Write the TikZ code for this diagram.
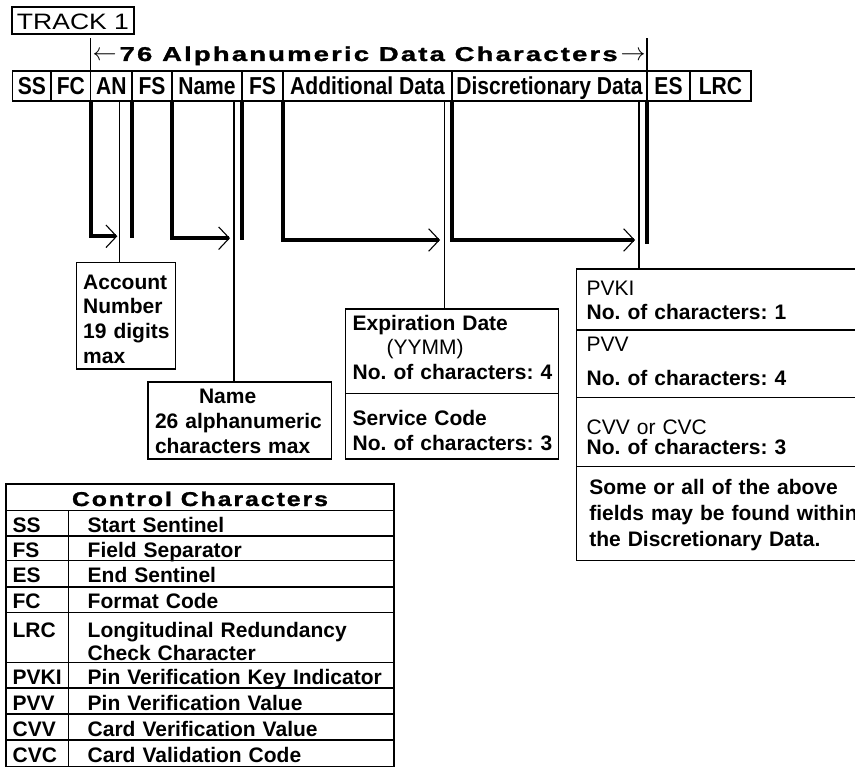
\documentclass[tikz,border=0pt]{standalone}
\usepackage{fontspec}
\usepackage{graphicx}
\setmainfont{Liberation Sans}
\newfontfamily\cellfont{Liberation Sans}[FakeStretch=0.86]
\usetikzlibrary{arrows.meta}
\tikzset{
 box/.style={draw=black, line width=1.2pt, outer sep=0pt, inner sep=0pt},
 cellbox/.style={box, minimum height=30pt, text height=18pt, text depth=0pt, font=\cellfont\bfseries\fontsize{24.5}{28}\selectfont},
 txtbox/.style={box, anchor=north west, align=left},
 thickln/.style={line width=4pt},
 thinln/.style={line width=1.2pt},
 barb/.style={-{Straight Barb[length=10.6pt,width=22.6pt,line width=1.1pt]}},
 abbr/.style={box, anchor=north west, minimum width=62.3pt, text width=49pt, align=left, text height=18pt, text depth=0pt, font=\bfseries\fontsize{21}{23}\selectfont},
 desc/.style={box, anchor=north west, minimum width=325.7pt, text width=286.9pt, align=left, text height=18pt, text depth=0pt, font=\bfseries\fontsize{21}{23}\selectfont},
}
\newcommand\tline[1]{\mbox{#1}}
\begin{document}
\frenchspacing\hyphenpenalty=10000\exhyphenpenalty=10000
\begin{tikzpicture}[x=1pt,y=-1pt]
\useasboundingbox (0,0) rectangle (855,768);
\fill[white] (0,0) rectangle (855,768);
\clip (0,0) rectangle (855,768);

% title
\node[box, minimum width=122pt, minimum height=27pt, text height=17.6pt, text depth=0pt] (track) at (73,20.5)
  {\resizebox{112pt}{\height}{\fontsize{22.3}{26}\selectfont TRACK 1}};

% field cells
\node[cellbox, minimum width=38.3pt] (ss) at (31.85,86) {SS};
\node[cellbox, minimum width=39.7pt] (fc) at (70.85,86) {FC};
\node[cellbox, minimum width=41.3pt] (an) at (111.35,86) {AN};
\node[cellbox, minimum width=40pt] (fs1) at (152,86) {FS};
\node[cellbox, minimum width=70pt] (cname) at (207,86) {Name};
\node[cellbox, minimum width=41pt] (fs2) at (262.5,86) {FS};
\node[cellbox, minimum width=169pt] (add) at (367.5,86) {Additional Data};
\node[cellbox, minimum width=195pt] (disc) at (549.5,86) {Discretionary Data};
\node[cellbox, minimum width=43pt] (es) at (668.5,86) {ES};
\node[cellbox, minimum width=61pt] (lrc) at (720.5,86) {LRC};

% 76 characters header
\draw[thinln] (an.north west) -- ++(0,-33);
\draw[thinln] (disc.north east) -- ++(0,-33);
\node[anchor=base west, inner sep=0pt] (hdr) at (92.5,61)
  {\fontsize{20}{24}\selectfont\hbox to 553pt{\raisebox{1pt}{\resizebox{24pt}{\height}{\scalebox{1.2}{$\leftarrow$}}}\hfil\resizebox{498pt}{\height}{\bfseries\addfontfeature{LetterSpace=8,FakeBold=1.2}76 Alphanumeric Data Characters}\hfil\raisebox{1pt}{\resizebox{25pt}{\height}{\scalebox{1.2}{$\rightarrow$}}}}};

% boxes
\node[txtbox, minimum width=99pt, minimum height=106.3pt, text width=86pt, text height=20.4pt, text depth=74.1pt,
  font=\bfseries\fontsize{21}{24.7}\selectfont] (acct) at (76.7,262.7) {\tline{Account}\\\tline{Number}\\\tline{19 digits}\\\tline{max}};
\node[txtbox, minimum width=183.7pt, minimum height=77pt, text width=169.7pt, text height=15.8pt, text depth=49.4pt,
  font=\bfseries\fontsize{21}{24.7}\selectfont] (namebox) at (148,382) {\tline{\hspace*{44pt}Name}\\\tline{26 alphanumeric}\\\tline{characters max}};
\node[txtbox, minimum width=212.6pt, minimum height=84.3pt, text width=198.6pt, text height=7pt, text depth=49.3pt,
  font=\bfseries\fontsize{21}{24.65}\selectfont] (exp1) at (345.7,309) {\tline{Expiration Date}\\\tline{\hspace*{34pt}\mdseries (YYMM)}\\\tline{No. of characters: 4}};
\node[txtbox, minimum width=212.6pt, minimum height=65.7pt, text width=198.6pt, text height=23.4pt, text depth=24.3pt,
  font=\bfseries\fontsize{21}{24.3}\selectfont] (exp2) at (345.7,393.3) {\tline{Service Code}\\\tline{No. of characters: 3}};

\node[txtbox, minimum width=303.3pt, minimum height=61pt, text width=283.3pt, text height=15.3pt, text depth=24.3pt,
  font=\bfseries\fontsize{21}{24.3}\selectfont] (pv1) at (576.7,269) {\tline{\mdseries PVKI}\\\tline{No. of characters: 1}};
\node[txtbox, minimum width=303.3pt, minimum height=67.7pt, text width=283.3pt, text height=9pt, text depth=33.3pt,
  font=\bfseries\fontsize{21}{33.3}\selectfont] (pv2) at (576.7,330) {\tline{\mdseries PVV}\\\tline{No. of characters: 4}};
\node[txtbox, minimum width=303.3pt, minimum height=69pt, text width=283.3pt, text height=23.9pt, text depth=19.7pt,
  font=\bfseries\fontsize{21}{19.7}\selectfont] (pv3) at (576.7,397.7) {\tline{\mdseries CVV or CVC}\\\tline{No. of characters: 3}};
\node[txtbox, minimum width=303.3pt, minimum height=94pt, text width=278.1pt, text height=12.6pt, text depth=52pt,
  font=\bfseries\fontsize{21}{26}\selectfont] (pv4) at (576.7,466.7) {\tline{Some or all of the above}\\\tline{fields may be found within}\\\tline{the Discretionary Data.}};

% connectors
\coordinate (anTip) at (117.3,236.3);
\coordinate (anTop) at (119.3,101);
\draw[thickln,barb] (an.south west) |- (anTip);
\draw[thickln] (an.south east) -- ++(0,137.3);
\draw[thinln] (anTop) -- (anTop |- acct.north);

\coordinate (nmTip) at (230,238.2);
\coordinate (nmTop) at (234,101);
\draw[thickln,barb] (cname.south west) |- (nmTip);
\draw[thickln] (cname.south east) -- ++(0,139);
\draw[thinln] (nmTop) -- (nmTop |- namebox.north);

\coordinate (adTip) at (440,240);
\coordinate (adTop) at (444.3,101);
\draw[thickln,barb] (add.south west) |- (adTip);
\draw[thinln] (adTop) -- (adTop |- exp1.north);

\coordinate (dsTip) at (635,240);
\coordinate (dsTop) at (639,101);
\draw[thickln,barb] (disc.south west) |- (dsTip);
\draw[thickln] (disc.south east) -- ++(0,143);
\draw[thinln] (dsTop) -- (dsTop |- pv1.north);

% control characters table
\node[box, anchor=north west, minimum width=388pt, minimum height=26.7pt, text height=17.3pt, text depth=0pt] (cchead) at (6,484)
  {\resizebox{256pt}{\height}{\fontsize{20}{24}\selectfont\bfseries\addfontfeature{LetterSpace=8,FakeBold=1.2}Control Characters}};

\node[abbr, minimum height=25.3pt] (aSS) at (6,510.7) {SS};
\node[desc, minimum height=25.3pt] (dSS) at (68.3,510.7) {Start Sentinel};
\node[abbr, minimum height=24.7pt] (aFS) at (6,536) {FS};
\node[desc, minimum height=24.7pt] (dFS) at (68.3,536) {Field Separator};
\node[abbr, minimum height=26.3pt] (aES) at (6,560.7) {ES};
\node[desc, minimum height=26.3pt] (dES) at (68.3,560.7) {End Sentinel};
\node[abbr, minimum height=25.7pt] (aFC) at (6,587) {FC};
\node[desc, minimum height=25.7pt] (dFC) at (68.3,587) {Format Code};
\node[abbr, minimum height=50pt, text height=8pt, text depth=8pt] (aLRC) at (6,612.7) {LRC};
\node[desc, minimum height=50pt, text height=23pt, text depth=23pt] (dLRC) at (68.3,612.7) {Longitudinal Redundancy\\Check Character};
\node[abbr, minimum height=25.3pt] (aPVKI) at (6,662.7) {PVKI};
\node[desc, minimum height=25.3pt] (dPVKI) at (68.3,662.7) {\mbox{Pin Verification Key Indicator}};
\node[abbr, minimum height=26pt] (aPVV) at (6,688) {PVV};
\node[desc, minimum height=26pt] (dPVV) at (68.3,688) {Pin Verification Value};
\node[abbr, minimum height=26pt] (aCVV) at (6,714) {CVV};
\node[desc, minimum height=26pt] (dCVV) at (68.3,714) {Card Verification Value};
\node[abbr, minimum height=26.5pt] (aCVC) at (6,740) {CVC};
\node[desc, minimum height=26.5pt] (dCVC) at (68.3,740) {Card Validation Code};
\end{tikzpicture}
\end{document}
